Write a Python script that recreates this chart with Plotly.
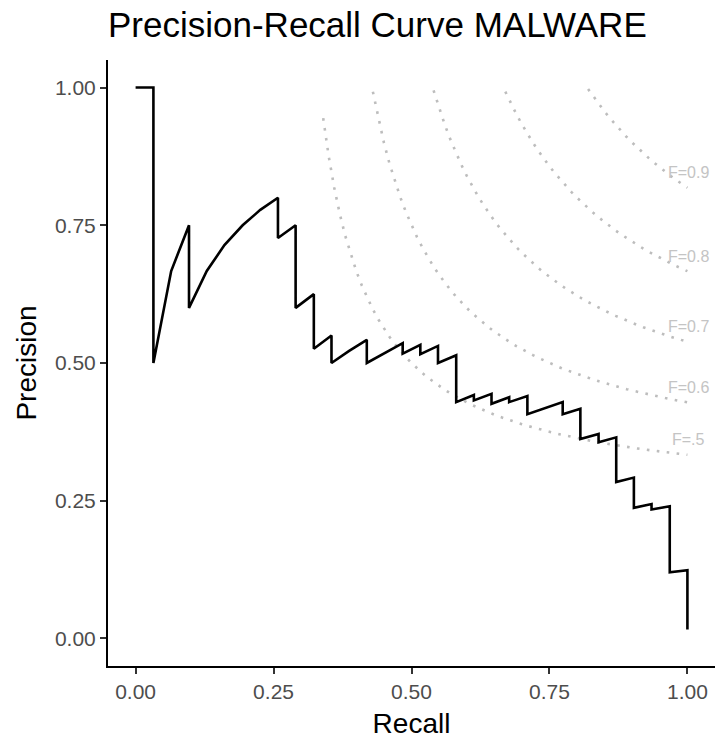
import plotly.graph_objects as go

# PR curve points (recall, precision)
recall = [0.0, 0.0323, 0.0323, 0.0645, 0.0968, 0.0968, 0.129, 0.161, 0.194, 0.226, 0.258,
          0.258, 0.290, 0.290, 0.323, 0.323, 0.355, 0.355, 0.387, 0.419, 0.419, 0.452,
          0.484, 0.484, 0.516, 0.516, 0.548, 0.548, 0.581, 0.581, 0.613, 0.613, 0.645,
          0.645, 0.677, 0.677, 0.710, 0.710, 0.742, 0.774, 0.774, 0.806, 0.806, 0.839,
          0.839, 0.871, 0.871, 0.903, 0.903, 0.935, 0.935, 0.968, 0.968, 1.0, 1.0]
precision = [1.0, 1.0, 0.5, 0.667, 0.75, 0.6, 0.667, 0.714, 0.75, 0.778, 0.8,
             0.727, 0.75, 0.6, 0.625, 0.526, 0.55, 0.5, 0.522, 0.542, 0.5, 0.519,
             0.536, 0.517, 0.533, 0.516, 0.531, 0.5, 0.514, 0.429, 0.442, 0.432, 0.444,
             0.426, 0.438, 0.429, 0.44, 0.407, 0.418, 0.429, 0.407, 0.417, 0.362, 0.371,
             0.356, 0.365, 0.284, 0.292, 0.237, 0.244, 0.234, 0.24, 0.12, 0.124, 0.0163]

# iso-F levels and labels
f_levels = [0.5, 0.6, 0.7, 0.8, 0.9]
f_labels = ["F=.5", "F=0.6", "F=0.7", "F=0.8", "F=0.9"]
recall_grid = [i / 100 for i in range(1, 101)]

tick_vals = [0, 0.25, 0.5, 0.75, 1.0]
tick_text = ["0.00", "0.25", "0.50", "0.75", "1.00"]

FONT = "Liberation Sans, Arial, sans-serif"
fig = go.Figure()

for f, lab in zip(f_levels, f_labels):
    xs, ys = [], []
    for r in recall_grid:
        d = 2 * r - f
        if d <= 0:
            continue
        p = f * r / d
        if p <= 1.0:
            xs.append(r)
            ys.append(p)
    fig.add_trace(go.Scatter(x=xs, y=ys, mode="lines",
                             line=dict(color="#BDBDBD", width=2.6, dash="2.6px,7.4px"),
                             hoverinfo="skip", showlegend=False))
    fig.add_annotation(x=1.002, y=ys[-1] + 0.027, text=lab, showarrow=False,
                       xanchor="center", yanchor="middle",
                       font=dict(family=FONT, size=16, color="#C4C4C4"))

fig.add_trace(go.Scatter(x=recall, y=precision, mode="lines",
                         line=dict(color="black", width=2.6), showlegend=False))

axis_common = dict(
    showgrid=False, zeroline=False, showline=True, linecolor="black", linewidth=2,
    ticks="outside", ticklen=6, tickwidth=1.5, tickcolor="#333333",
    tickvals=tick_vals, ticktext=tick_text,
    tickfont=dict(family=FONT, size=21, color="#4D4D4D"),
)

fig.update_layout(
    width=716, height=743,
    margin=dict(l=108, r=1, t=60, b=77),
    plot_bgcolor="white", paper_bgcolor="white",
    title=dict(text="Precision-Recall Curve MALWARE", x=0, xref="paper", xanchor="left",
               y=1 - 25 / 743, yref="container", yanchor="middle",
               font=dict(family=FONT, size=35, color="black")),
    xaxis=dict(range=[-0.05, 1.05], title=dict(text="Recall", standoff=11,
               font=dict(family=FONT, size=28, color="black")), **axis_common),
    yaxis=dict(range=[-0.05, 1.05], title=dict(text="Precision", standoff=10,
               font=dict(family=FONT, size=28, color="black")), **axis_common),
)

fig.write_html("out.html")
